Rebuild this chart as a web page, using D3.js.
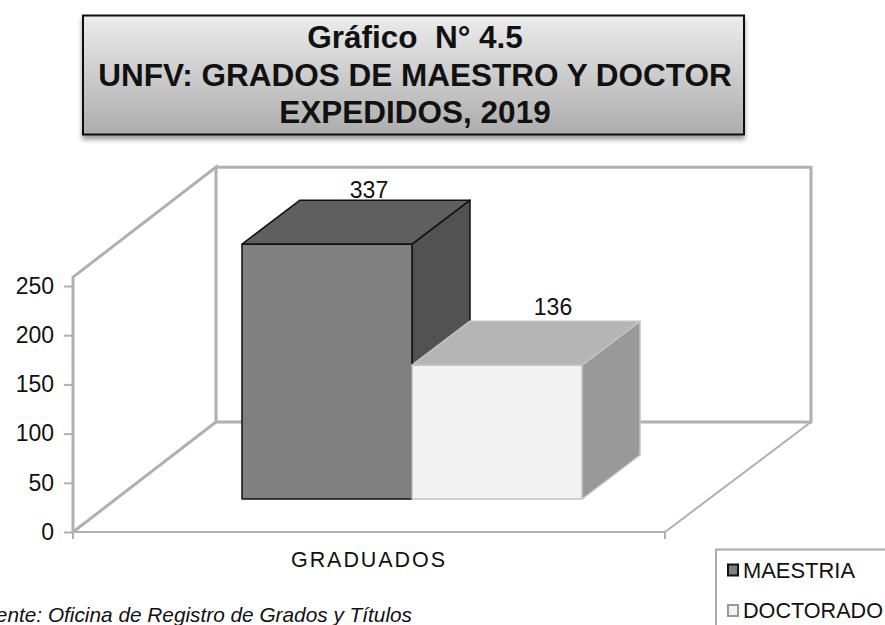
<!DOCTYPE html>
<html><head><meta charset="utf-8">
<script src="https://cdnjs.cloudflare.com/ajax/libs/d3/7.8.5/d3.min.js"></script>
<style>html,body{margin:0;padding:0;background:#fff;overflow:hidden}svg{display:block}text{font-family:"Liberation Sans",Arial,sans-serif;fill:#111}</style>
</head><body><svg id="c" width="885" height="625"></svg>
<script>
const titleLines = ["Gráfico  N° 4.5", "UNFV: GRADOS DE MAESTRO Y DOCTOR", "EXPEDIDOS, 2019"];
const categories = ["GRADUADOS"];
const seriesNames = ["MAESTRIA", "DOCTORADO"];
const seriesValues = [337, 136];
const yTicks = [0, 50, 100, 150, 200, 250];
const axisMax = 259;
const sourceNote = "Fuente: Oficina de Registro de Grados y Títulos";

const frontFill = ["#808080", "#f2f2f2"];
const topFill = ["#5f5f5f", "#b5b5b5"];
const sideFill = ["#525252", "#999999"];
const edge = ["#111111", "#c4c4c4"];
const wall = "#b0b0b0";

const svg = d3.select("#c");
const defs = svg.append("defs");
const g = defs.append("linearGradient").attr("id", "tg").attr("x1", 0).attr("x2", 0).attr("y1", 0).attr("y2", 1);
g.append("stop").attr("offset", 0).attr("stop-color", "#ececec");
g.append("stop").attr("offset", 1).attr("stop-color", "#adadad");
const f = defs.append("filter").attr("id", "sh").attr("x", "-5%").attr("y", "-5%").attr("width", "110%").attr("height", "120%");
f.append("feDropShadow").attr("dx", 0).attr("dy", 4).attr("stdDeviation", 2.5).attr("flood-color", "#000").attr("flood-opacity", 0.4);

// Title
svg.append("rect").attr("x", 83).attr("y", 15.5).attr("width", 661).attr("height", 119)
  .attr("fill", "url(#tg)").attr("stroke", "#111").attr("stroke-width", 2).attr("filter", "url(#sh)");
svg.selectAll(".tl").data(titleLines).join("text").attr("class", "tl")
  .attr("x", 415).attr("y", (d, i) => 48 + i * 37.5).attr("text-anchor", "middle")
  .attr("font-size", 31.5).attr("font-weight", "bold").style("white-space", "pre").text(d => d);

// Scales
const y = d3.scaleLinear().domain([0, 250]).range([532, 286]);
const x = d3.scaleBand().domain(categories).range([73, 665]);
const depthBack = [143, -110];     // left wall / floor receding vector
const barDepth = [58, -44];
const baseShift = [0, -33];
const inner = d3.scaleBand().domain(seriesNames).range([242, 582]);

const line = d3.line();
const x0 = x.range()[0], x1 = x.range()[1], y0 = y(0), yTop = y(axisMax);

// Walls
const wg = svg.append("g").attr("fill", "none").attr("stroke", wall).attr("stroke-linejoin", "miter");
wg.append("path").attr("stroke-width", 3).attr("d", line([[x0, y0], [x0, yTop], [x0 + depthBack[0], yTop + depthBack[1]], [x0 + depthBack[0], y0 + depthBack[1]], [x0, y0]]));
wg.append("path").attr("stroke-width", 3).attr("d", line([[x0 + depthBack[0], yTop + depthBack[1]], [x1 + 146, yTop + depthBack[1]], [x1 + 146, y0 + depthBack[1]], [x0 + depthBack[0], y0 + depthBack[1]]]));
wg.append("path").attr("stroke-width", 2).attr("d", line([[x1 + 146, y0 + depthBack[1]], [x1, y0], [x0, y0]]));

// Axis ticks
const axis = d3.axisLeft(y).tickValues(yTicks).tickSize(8).tickPadding(10);
const ga = svg.append("g").attr("transform", `translate(${x0 - 1},0)`).call(axis);
ga.select(".domain").remove();
ga.selectAll("line").attr("stroke", wall).attr("stroke-width", 2);
ga.selectAll("text").attr("font-size", 23).attr("fill", "#111").style("font-family", '"Liberation Sans"');
const gx = svg.append("g").attr("transform", `translate(0,${y0})`);
gx.selectAll("line").data([x0, x1]).join("line").attr("x1", d => d).attr("x2", d => d).attr("y1", 0).attr("y2", 7).attr("stroke", wall).attr("stroke-width", 2);
gx.selectAll("text").data(categories).join("text").attr("x", d => x(d) + x.bandwidth() / 2 - 1).attr("y", 35)
  .attr("text-anchor", "middle").attr("font-size", 21.5).attr("textLength", 154).attr("lengthAdjust", "spacing").text(d => d);

// Bars (3D): truncated at the axis maximum
seriesNames.forEach((name, i) => {
  const v = Math.min(seriesValues[i], axisMax);
  const l = inner(name), r = l + inner.bandwidth();
  const b = y(0) + baseShift[1], t = y(v) + baseShift[1];
  const [dx, dy] = barDepth;
  const bar = svg.append("g").attr("stroke", edge[i]).attr("stroke-width", 1.5).attr("stroke-linejoin", "round");
  bar.append("path").attr("fill", sideFill[i]).attr("d", line([[r, b], [r, t], [r + dx, t + dy], [r + dx, b + dy]]) + "Z");
  bar.append("path").attr("fill", topFill[i]).attr("d", line([[l, t], [r, t], [r + dx, t + dy], [l + dx, t + dy]]) + "Z");
  bar.append("path").attr("fill", frontFill[i]).attr("d", line([[l, t], [r, t], [r, b], [l, b]]) + "Z");
  svg.append("text").attr("x", r + dx - (i ? 87 : 101)).attr("y", t + dy + (i ? -6 : -2)).attr("text-anchor", "middle").attr("font-size", 23).text(seriesValues[i]);
});

// Source note
svg.append("text").attr("x", 412).attr("y", 622).attr("text-anchor", "end").attr("font-size", 20.8).attr("font-style", "italic").attr("fill", "#222").text(sourceNote);

// Legend
svg.append("path").attr("fill", "#fff").attr("stroke", "#aaa").attr("stroke-width", 2).attr("d", "M716,625V549.5H885");
seriesNames.forEach((name, i) => {
  const yy = 570 + i * 40.5;
  svg.append("rect").attr("x", 728).attr("y", yy - 5.5).attr("width", 10).attr("height", 11).attr("fill", frontFill[i]).attr("stroke", i ? "#999" : "#111").attr("stroke-width", 2);
  svg.append("text").attr("x", 743).attr("y", yy + 7.5).attr("font-size", 21.5).attr("textLength", i ? 140 : 112).attr("lengthAdjust", "spacingAndGlyphs").text(name);
});
</script></body></html>
